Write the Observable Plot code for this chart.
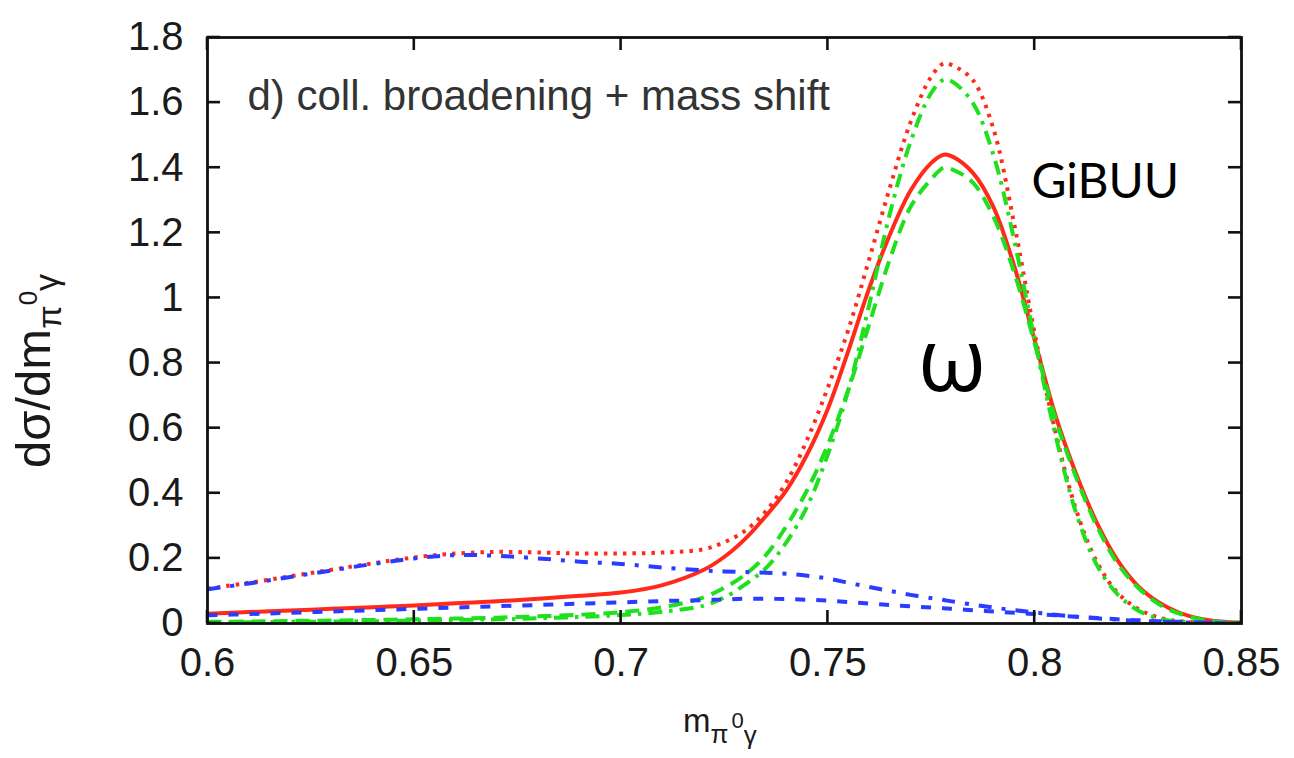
<!DOCTYPE html>
<html><head><meta charset="utf-8">
<script src="https://cdn.jsdelivr.net/npm/d3@7"></script>
<script src="https://cdn.jsdelivr.net/npm/@observablehq/plot@0.6"></script>
<style>html,body{margin:0;padding:0;background:#fff;} svg{display:block;}</style>
</head><body><div id="chart"></div>
<script>
// ---- data ----
const masses = [0.600,0.610,0.620,0.630,0.640,0.650,0.660,0.670,0.680,0.690,0.700,0.710,0.720,0.725,0.730,0.735,0.740,0.745,0.750,0.755,0.760,0.765,0.770,0.775,0.778,0.780,0.785,0.790,0.795,0.800,0.805,0.810,0.815,0.820,0.825,0.830,0.835,0.840,0.845,0.850];
const redSolid = [0.030,0.035,0.040,0.045,0.050,0.055,0.062,0.068,0.076,0.085,0.095,0.118,0.165,0.205,0.260,0.330,0.410,0.520,0.660,0.840,1.030,1.195,1.330,1.415,1.440,1.435,1.385,1.280,1.100,0.870,0.640,0.460,0.310,0.195,0.115,0.065,0.033,0.015,0.006,0.002];
const redDotted = [0.107,0.125,0.145,0.165,0.185,0.203,0.215,0.220,0.218,0.215,0.215,0.218,0.228,0.250,0.285,0.345,0.435,0.565,0.725,0.905,1.120,1.340,1.540,1.680,1.720,1.715,1.670,1.520,1.230,0.890,0.590,0.350,0.190,0.095,0.045,0.018,0.007,0.003,0.001,0.000];
const greenDashed = [0.005,0.006,0.008,0.009,0.011,0.013,0.015,0.018,0.022,0.027,0.035,0.050,0.080,0.110,0.150,0.210,0.300,0.410,0.550,0.720,0.920,1.120,1.280,1.365,1.400,1.395,1.355,1.250,1.080,0.860,0.630,0.450,0.300,0.185,0.110,0.060,0.030,0.013,0.005,0.002];
const greenDashDot = [0.003,0.004,0.005,0.006,0.007,0.009,0.011,0.013,0.016,0.020,0.026,0.036,0.055,0.080,0.120,0.170,0.250,0.360,0.520,0.720,0.980,1.260,1.480,1.630,1.670,1.665,1.600,1.440,1.180,0.870,0.580,0.340,0.180,0.090,0.040,0.015,0.006,0.002,0.001,0.000];
const blueDashDot = [0.105,0.123,0.143,0.163,0.183,0.200,0.210,0.208,0.200,0.190,0.183,0.172,0.163,0.160,0.158,0.156,0.153,0.147,0.138,0.125,0.112,0.100,0.088,0.078,0.072,0.068,0.058,0.049,0.041,0.034,0.027,0.021,0.016,0.012,0.008,0.006,0.004,0.002,0.001,0.000];
const blueDashed = [0.025,0.029,0.033,0.037,0.041,0.045,0.049,0.053,0.057,0.061,0.065,0.069,0.072,0.074,0.076,0.076,0.075,0.073,0.070,0.066,0.061,0.057,0.053,0.049,0.047,0.045,0.041,0.037,0.033,0.029,0.025,0.021,0.017,0.013,0.010,0.007,0.005,0.003,0.001,0.000];

const xTicks = [0.6,0.65,0.7,0.75,0.8,0.85];
const xTickLabels = ["0.6","0.65","0.7","0.75","0.8","0.85"];
const yTicks = [0,0.2,0.4,0.6,0.8,1.0,1.2,1.4,1.6,1.8];
const yTickLabels = ["0","0.2","0.4","0.6","0.8","1","1.2","1.4","1.6","1.8"];
const panelLabel = "d) coll. broadening + mass shift";
const annotations = [{text:"GiBUU", m:0.7992, v:1.354}];
const omegaLabel = [{text:"ω", m:0.7718, v:0.80}];

// ---- styles ----
const RED = "#ff2a1a", GREEN = "#1ee01e", BLUE = "#2a3cff";
const series = [
  {values: redSolid,     stroke: RED,   dash: null,          width: 4},
  {values: redDotted,    stroke: RED,   dash: "3.5,6",       width: 4},
  {values: greenDashed,  stroke: GREEN, dash: "14,8",        width: 4},
  {values: greenDashDot, stroke: GREEN, dash: "14,7,3.5,7",  width: 4},
  {values: blueDashDot,  stroke: BLUE,  dash: "13,10,4,10",  width: 4},
  {values: blueDashed,   stroke: BLUE,  dash: "10,11",       width: 4}
];
const toRows = vals => masses.map((m, i) => ({m, v: vals[i]}));

const FONT = "'Liberation Sans', Arial, Helvetica, sans-serif";
const W = 1294, H = 758, ML = 207, MR = 53, MT = 37, MB = 135, TICK = 13;

const chart = Plot.plot({
  width: W, height: H,
  marginLeft: ML, marginRight: MR, marginTop: MT, marginBottom: MB,
  x: {domain: [0.6, 0.85]},
  y: {domain: [0, 1.8]},
  style: {fontFamily: FONT, background: "#fff", color: "#1a1a1a"},
  marks: [
    ...series.map(s => Plot.line(toRows(s.values), {
      x: "m", y: "v", stroke: s.stroke, strokeWidth: s.width,
      strokeDasharray: s.dash, curve: "catmull-rom", strokeLinecap: "butt", clip: true
    })),
    Plot.frame({stroke: "#111", strokeWidth: 2.8}),
    Plot.axisX(xTicks, {anchor: "bottom", tickSize: 0, tickPadding: 24,
      tickFormat: d => xTickLabels[xTicks.indexOf(d)], fontSize: 40, label: null}),
    Plot.axisY(yTicks, {anchor: "left", tickSize: 0, tickPadding: 24,
      tickFormat: d => yTickLabels[yTicks.indexOf(d)], fontSize: 40, label: null}),
    Plot.text([panelLabel], {frameAnchor: "top-left", dx: 40, dy: 43, text: d => d,
      fontSize: 42, fill: "#333", textAnchor: "start", lineAnchor: "top"}),
    Plot.text(annotations, {x: "m", y: "v", text: "text", fontSize: 48, fill: "#000",
      textAnchor: "start", fontFamily: "Lato, 'Open Sans', sans-serif"}),
    Plot.text(omegaLabel, {x: "m", y: "v", text: "text", fontSize: 88, fill: "#000",
      textAnchor: "start", fontFamily: "'Open Sans', Lato, sans-serif"})
  ]
});
document.getElementById("chart").append(chart);

const svg = d3.select(chart);

// inward tick marks on all four sides, positioned through Plot's own scales
const sx = chart.scale("x"), sy = chart.scale("y");
const frameL = Math.min(...sx.range), frameR = Math.max(...sx.range);
const frameB = Math.max(...sy.range), frameT = Math.min(...sy.range);
const tg = svg.append("g").attr("stroke", "#111").attr("stroke-width", 2.6);
xTicks.forEach(v => {
  const px = sx.apply(v);
  tg.append("line").attr("x1", px).attr("x2", px).attr("y1", frameB).attr("y2", frameB - TICK);
  tg.append("line").attr("x1", px).attr("x2", px).attr("y1", frameT).attr("y2", frameT + TICK);
});
yTicks.forEach(v => {
  const py = sy.apply(v);
  tg.append("line").attr("y1", py).attr("y2", py).attr("x1", frameL).attr("x2", frameL + TICK);
  tg.append("line").attr("y1", py).attr("y2", py).attr("x1", frameR).attr("x2", frameR - TICK);
});

// axis titles with sub/superscripts (real text)
const yl = svg.append("text")
  .attr("transform", "translate(50,468) rotate(-90)")
  .attr("text-anchor", "start")
  .attr("font-family", FONT).attr("font-size", 49).attr("fill", "#1a1a1a");
yl.append("tspan").text("dσ/dm");
yl.append("tspan").attr("dy", 11).attr("font-size", 34).text("π");
yl.append("tspan").attr("dy", -24).attr("font-size", 26).text("0");
yl.append("tspan").attr("dy", 21).attr("font-size", 34).text("γ");

const xl = svg.append("text")
  .attr("x", 683).attr("y", 732)
  .attr("text-anchor", "start")
  .attr("font-family", FONT).attr("font-size", 33).attr("fill", "#1a1a1a");
xl.append("tspan").text("m");
xl.append("tspan").attr("dy", 11).attr("font-size", 26).text("π");
xl.append("tspan").attr("dy", -15).attr("dx", 3).attr("font-size", 22).text("0");
xl.append("tspan").attr("dy", 16).attr("font-size", 26).text("γ");
</script>
</body></html>
